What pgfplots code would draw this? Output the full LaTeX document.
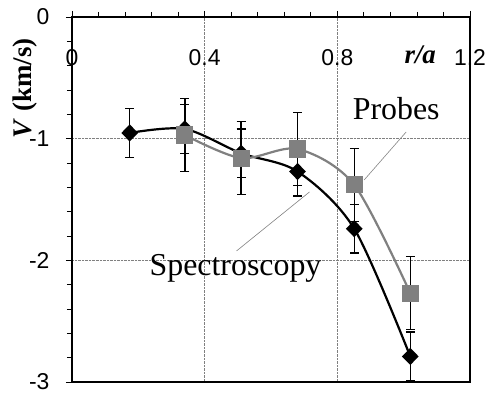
\documentclass[border=0pt]{standalone}
\usepackage{fontspec}
\setmainfont{Liberation Sans}
\newfontfamily\tnr{Liberation Serif}
\usepackage{pgfplots}
\pgfplotsset{compat=1.18}
\definecolor{probegray}{RGB}{128,128,128}
\begin{document}
\begin{tikzpicture}
\begin{axis}[
  name=ax,
  scale only axis,
  width=398bp, height=365bp,
  xmin=0, xmax=1.2, ymin=-3, ymax=0,
  xtick={0,0.4,0.8,1.2},
  ytick={-3,-2,-1,0},
  xticklabels={0,0.4,0.8,1.2},
  yticklabels={-3,-2,-1,0},
  minor x tick num=4,
  minor y tick num=4,
  xtick pos=right,
  xticklabel pos=right,
  ytick pos=left,
  tick align=outside,
  major tick length=6bp,
  minor tick length=5bp,
  tick style={black, line width=0.8bp},
  grid=major,
  major grid style={densely dotted, gray, line width=0.6bp},
  axis line style={line width=1.8bp},
  xticklabel style={anchor=center, yshift=-47bp},
  yticklabel style={anchor=east, xshift=-13bp},
  tick label style={font=\fontsize{23}{26}\selectfont},
  clip mode=individual,
]
% Spectroscopy
\addplot[black, line width=2.2bp, smooth, mark=diamond*, mark size=7bp,
  mark options={solid, xscale=1.3},
  error bars/.cd, y dir=both, y explicit,
  error bar style={line width=1.5bp, black},
  error mark options={rotate=90, black, line width=1.5bp, mark size=4.5bp}]
coordinates {
  (0.174,-0.953) +- (0,0.2)
  (0.34,-0.92) +- (0,0.2)
  (0.51,-1.12) +- (0,0.2)
  (0.68,-1.27) +- (0,0.2)
  (0.851,-1.74) +- (0,0.2)
  (1.02,-2.79) +- (0,0.2)
};
% Probes
\addplot[probegray, line width=2.2bp, smooth, mark=square*, mark size=7.5bp,
  mark options={solid, probegray},
  error bars/.cd, y dir=both, y explicit,
  error bar style={line width=1.5bp, black},
  error mark options={rotate=90, black, line width=1.5bp, mark size=4.5bp}]
coordinates {
  (0.34,-0.97) +- (0,0.3)
  (0.51,-1.16) +- (0,0.3)
  (0.68,-1.085) +- (0,0.3)
  (0.851,-1.38) +- (0,0.3)
  (1.02,-2.27) +- (0,0.3)
};
\draw[gray, line width=0.6bp] (axis cs:1.0075,-0.945) -- (axis cs:0.881,-1.339);
\draw[gray, line width=0.6bp] (axis cs:0.716,-1.438) -- (axis cs:0.496,-1.923);
\node[font=\tnr\fontsize{32}{36}\selectfont, anchor=base] at (axis cs:0.9774,-0.846) {Probes};
\node[font=\tnr\fontsize{32}{36}\selectfont, anchor=base] at (axis cs:0.493,-2.128) {Spectroscopy};
\node[font=\tnr\bfseries\itshape\fontsize{27}{30}\selectfont] at (axis cs:1.05,-0.312) {r/a};
\node[rotate=90, font=\tnr\bfseries\fontsize{27}{31}\selectfont] at (axis cs:-0.1414,-0.585) {\textit{V} (km/s)};
\end{axis}
\pgfresetboundingbox
\useasboundingbox ([shift={(-72bp,-12bp)}]ax.south west) rectangle ([shift={(415bp,382bp)}]ax.south west);
\end{tikzpicture}
\end{document}
